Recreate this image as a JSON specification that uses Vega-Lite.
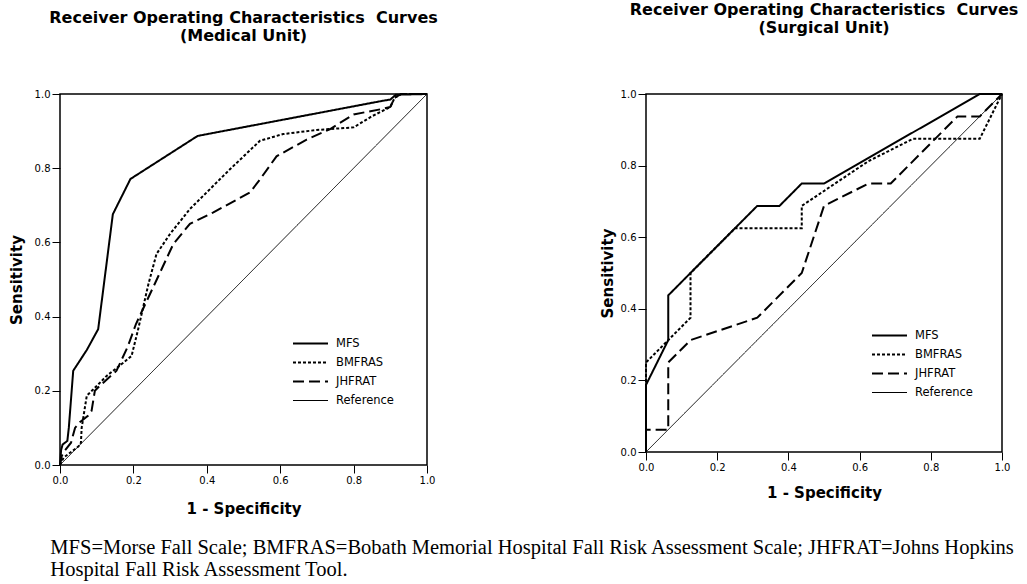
{
  "$schema": "https://vega.github.io/schema/vega-lite/v6.json",
  "padding": {"left": 8, "top": 1, "right": 0, "bottom": 0},
  "background": "white",
  "datasets": {
    "medical": [
      {"series": "MFS", "idx": 0, "fpr": 0, "tpr": 0},
      {"series": "MFS", "idx": 1, "fpr": 0.003, "tpr": 0.04},
      {"series": "MFS", "idx": 2, "fpr": 0.007, "tpr": 0.055},
      {"series": "MFS", "idx": 3, "fpr": 0.02, "tpr": 0.065},
      {"series": "MFS", "idx": 4, "fpr": 0.024, "tpr": 0.1},
      {"series": "MFS", "idx": 5, "fpr": 0.036, "tpr": 0.254},
      {"series": "MFS", "idx": 6, "fpr": 0.073, "tpr": 0.31},
      {"series": "MFS", "idx": 7, "fpr": 0.104, "tpr": 0.366},
      {"series": "MFS", "idx": 8, "fpr": 0.144, "tpr": 0.676},
      {"series": "MFS", "idx": 9, "fpr": 0.192, "tpr": 0.771},
      {"series": "MFS", "idx": 10, "fpr": 0.375, "tpr": 0.887},
      {"series": "MFS", "idx": 11, "fpr": 0.881, "tpr": 0.982},
      {"series": "MFS", "idx": 12, "fpr": 0.9, "tpr": 0.985},
      {"series": "MFS", "idx": 13, "fpr": 0.915, "tpr": 0.998},
      {"series": "MFS", "idx": 14, "fpr": 1, "tpr": 1},
      {"series": "BMFRAS", "idx": 0, "fpr": 0, "tpr": 0},
      {"series": "BMFRAS", "idx": 1, "fpr": 0.01, "tpr": 0.02},
      {"series": "BMFRAS", "idx": 2, "fpr": 0.03, "tpr": 0.035},
      {"series": "BMFRAS", "idx": 3, "fpr": 0.05, "tpr": 0.05},
      {"series": "BMFRAS", "idx": 4, "fpr": 0.057, "tpr": 0.06},
      {"series": "BMFRAS", "idx": 5, "fpr": 0.059, "tpr": 0.1},
      {"series": "BMFRAS", "idx": 6, "fpr": 0.073, "tpr": 0.187},
      {"series": "BMFRAS", "idx": 7, "fpr": 0.091, "tpr": 0.204},
      {"series": "BMFRAS", "idx": 8, "fpr": 0.127, "tpr": 0.24},
      {"series": "BMFRAS", "idx": 9, "fpr": 0.168, "tpr": 0.272},
      {"series": "BMFRAS", "idx": 10, "fpr": 0.195, "tpr": 0.294},
      {"series": "BMFRAS", "idx": 11, "fpr": 0.213, "tpr": 0.366},
      {"series": "BMFRAS", "idx": 12, "fpr": 0.241, "tpr": 0.488},
      {"series": "BMFRAS", "idx": 13, "fpr": 0.263, "tpr": 0.569},
      {"series": "BMFRAS", "idx": 14, "fpr": 0.3, "tpr": 0.623},
      {"series": "BMFRAS", "idx": 15, "fpr": 0.354, "tpr": 0.69},
      {"series": "BMFRAS", "idx": 16, "fpr": 0.463, "tpr": 0.797},
      {"series": "BMFRAS", "idx": 17, "fpr": 0.545, "tpr": 0.874},
      {"series": "BMFRAS", "idx": 18, "fpr": 0.608, "tpr": 0.892},
      {"series": "BMFRAS", "idx": 19, "fpr": 0.699, "tpr": 0.903},
      {"series": "BMFRAS", "idx": 20, "fpr": 0.8, "tpr": 0.91},
      {"series": "BMFRAS", "idx": 21, "fpr": 0.85, "tpr": 0.94},
      {"series": "BMFRAS", "idx": 22, "fpr": 0.9, "tpr": 0.965},
      {"series": "BMFRAS", "idx": 23, "fpr": 0.912, "tpr": 0.99},
      {"series": "BMFRAS", "idx": 24, "fpr": 0.93, "tpr": 1},
      {"series": "BMFRAS", "idx": 25, "fpr": 1, "tpr": 1},
      {"series": "JHFRAT", "idx": 0, "fpr": 0, "tpr": 0},
      {"series": "JHFRAT", "idx": 1, "fpr": 0.005, "tpr": 0.025},
      {"series": "JHFRAT", "idx": 2, "fpr": 0.014, "tpr": 0.04},
      {"series": "JHFRAT", "idx": 3, "fpr": 0.03, "tpr": 0.06},
      {"series": "JHFRAT", "idx": 4, "fpr": 0.041, "tpr": 0.1},
      {"series": "JHFRAT", "idx": 5, "fpr": 0.054, "tpr": 0.115},
      {"series": "JHFRAT", "idx": 6, "fpr": 0.077, "tpr": 0.133},
      {"series": "JHFRAT", "idx": 7, "fpr": 0.086, "tpr": 0.146},
      {"series": "JHFRAT", "idx": 8, "fpr": 0.095, "tpr": 0.2},
      {"series": "JHFRAT", "idx": 9, "fpr": 0.109, "tpr": 0.214},
      {"series": "JHFRAT", "idx": 10, "fpr": 0.154, "tpr": 0.254},
      {"series": "JHFRAT", "idx": 11, "fpr": 0.185, "tpr": 0.32},
      {"series": "JHFRAT", "idx": 12, "fpr": 0.207, "tpr": 0.38},
      {"series": "JHFRAT", "idx": 13, "fpr": 0.259, "tpr": 0.49},
      {"series": "JHFRAT", "idx": 14, "fpr": 0.309, "tpr": 0.596},
      {"series": "JHFRAT", "idx": 15, "fpr": 0.354, "tpr": 0.65},
      {"series": "JHFRAT", "idx": 16, "fpr": 0.418, "tpr": 0.681},
      {"series": "JHFRAT", "idx": 17, "fpr": 0.518, "tpr": 0.735},
      {"series": "JHFRAT", "idx": 18, "fpr": 0.545, "tpr": 0.77},
      {"series": "JHFRAT", "idx": 19, "fpr": 0.59, "tpr": 0.832},
      {"series": "JHFRAT", "idx": 20, "fpr": 0.672, "tpr": 0.877},
      {"series": "JHFRAT", "idx": 21, "fpr": 0.735, "tpr": 0.905},
      {"series": "JHFRAT", "idx": 22, "fpr": 0.8, "tpr": 0.945},
      {"series": "JHFRAT", "idx": 23, "fpr": 0.88, "tpr": 0.96},
      {"series": "JHFRAT", "idx": 24, "fpr": 0.9, "tpr": 0.965},
      {"series": "JHFRAT", "idx": 25, "fpr": 0.912, "tpr": 0.99},
      {"series": "JHFRAT", "idx": 26, "fpr": 0.93, "tpr": 1},
      {"series": "JHFRAT", "idx": 27, "fpr": 1, "tpr": 1},
      {"series": "Reference", "idx": 0, "fpr": 0, "tpr": 0},
      {"series": "Reference", "idx": 1, "fpr": 1, "tpr": 1}
    ],
    "surgical": [
      {"series": "MFS", "idx": 0, "fpr": 0, "tpr": 0},
      {"series": "MFS", "idx": 1, "fpr": 0, "tpr": 0.1875},
      {"series": "MFS", "idx": 2, "fpr": 0.0625, "tpr": 0.3125},
      {"series": "MFS", "idx": 3, "fpr": 0.0625, "tpr": 0.4375},
      {"series": "MFS", "idx": 4, "fpr": 0.125, "tpr": 0.5},
      {"series": "MFS", "idx": 5, "fpr": 0.3125, "tpr": 0.6875},
      {"series": "MFS", "idx": 6, "fpr": 0.375, "tpr": 0.6875},
      {"series": "MFS", "idx": 7, "fpr": 0.4375, "tpr": 0.75},
      {"series": "MFS", "idx": 8, "fpr": 0.5, "tpr": 0.75},
      {"series": "MFS", "idx": 9, "fpr": 0.9375, "tpr": 1},
      {"series": "MFS", "idx": 10, "fpr": 1, "tpr": 1},
      {"series": "BMFRAS", "idx": 0, "fpr": 0, "tpr": 0},
      {"series": "BMFRAS", "idx": 1, "fpr": 0, "tpr": 0.25},
      {"series": "BMFRAS", "idx": 2, "fpr": 0.0625, "tpr": 0.3125},
      {"series": "BMFRAS", "idx": 3, "fpr": 0.125, "tpr": 0.375},
      {"series": "BMFRAS", "idx": 4, "fpr": 0.125, "tpr": 0.5},
      {"series": "BMFRAS", "idx": 5, "fpr": 0.25, "tpr": 0.625},
      {"series": "BMFRAS", "idx": 6, "fpr": 0.4375, "tpr": 0.625},
      {"series": "BMFRAS", "idx": 7, "fpr": 0.4375, "tpr": 0.6875},
      {"series": "BMFRAS", "idx": 8, "fpr": 0.625, "tpr": 0.8125},
      {"series": "BMFRAS", "idx": 9, "fpr": 0.75, "tpr": 0.875},
      {"series": "BMFRAS", "idx": 10, "fpr": 0.9375, "tpr": 0.875},
      {"series": "BMFRAS", "idx": 11, "fpr": 1, "tpr": 1},
      {"series": "JHFRAT", "idx": 0, "fpr": 0, "tpr": 0},
      {"series": "JHFRAT", "idx": 1, "fpr": 0, "tpr": 0.0625},
      {"series": "JHFRAT", "idx": 2, "fpr": 0.0625, "tpr": 0.0625},
      {"series": "JHFRAT", "idx": 3, "fpr": 0.0625, "tpr": 0.25},
      {"series": "JHFRAT", "idx": 4, "fpr": 0.125, "tpr": 0.3125},
      {"series": "JHFRAT", "idx": 5, "fpr": 0.3125, "tpr": 0.375},
      {"series": "JHFRAT", "idx": 6, "fpr": 0.4375, "tpr": 0.5},
      {"series": "JHFRAT", "idx": 7, "fpr": 0.5, "tpr": 0.6875},
      {"series": "JHFRAT", "idx": 8, "fpr": 0.625, "tpr": 0.75},
      {"series": "JHFRAT", "idx": 9, "fpr": 0.6875, "tpr": 0.75},
      {"series": "JHFRAT", "idx": 10, "fpr": 0.875, "tpr": 0.9375},
      {"series": "JHFRAT", "idx": 11, "fpr": 0.9375, "tpr": 0.9375},
      {"series": "JHFRAT", "idx": 12, "fpr": 1, "tpr": 1},
      {"series": "Reference", "idx": 0, "fpr": 0, "tpr": 0},
      {"series": "Reference", "idx": 1, "fpr": 1, "tpr": 1}
    ]
  },
  "title": {
    "text": ["MFS=Morse Fall Scale; BMFRAS=Bobath Memorial Hospital Fall Risk Assessment Scale; JHFRAT=Johns Hopkins", "Hospital Fall Risk Assessment Tool."],
    "orient": "bottom",
    "anchor": "start",
    "font": "Liberation Serif",
    "fontSize": 20.5,
    "fontWeight": "normal",
    "color": "#000",
    "lineHeight": 22,
    "offset": 21,
    "dx": 42
  },
  "spacing": 160,
  "hconcat": [
    {
      "width": 367,
      "height": 371,
      "data": {"name": "medical"},
      "title": {"text": ["Receiver Operating Characteristics\u00a0 Curves", "(Medical Unit)"], "offset": 45},
      "mark": {"type": "line", "color": "#000", "strokeCap": "butt", "strokeJoin": "miter"},
      "encoding": {
        "x": {"field": "fpr", "type": "quantitative", "scale": {"domain": [0, 1], "nice": false, "zero": false}, "axis": {"title": "1 - Specificity", "values": [0, 0.2, 0.4, 0.6, 0.8, 1], "format": ".1f", "titlePadding": 16}},
        "y": {"field": "tpr", "type": "quantitative", "scale": {"domain": [0, 1], "nice": false, "zero": false}, "axis": {"title": "Sensitivity", "values": [0, 0.2, 0.4, 0.6, 0.8, 1], "format": ".1f", "titlePadding": 10}},
        "order": {"field": "idx", "type": "quantitative"},
        "strokeDash": {"field": "series", "type": "nominal", "scale": {"domain": ["MFS", "BMFRAS", "JHFRAT", "Reference"], "range": [[1, 0], [3, 2], [11, 5], [1, 0]]}, "legend": {"orient": "none", "legendX": 232, "legendY": 242, "title": null}},
        "strokeWidth": {"field": "series", "type": "ordinal", "scale": {"type": "ordinal", "domain": ["MFS", "BMFRAS", "JHFRAT", "Reference"], "range": [2, 2, 2, 1]}, "legend": {"orient": "none", "legendX": 232, "legendY": 242, "title": null}}
      }
    },
    {
      "width": 356,
      "height": 358,
      "data": {"name": "surgical"},
      "title": {"text": ["Receiver Operating Characteristics\u00a0 Curves", "(Surgical Unit)"], "offset": 53},
      "mark": {"type": "line", "color": "#000", "strokeCap": "butt", "strokeJoin": "miter"},
      "encoding": {
        "x": {"field": "fpr", "type": "quantitative", "scale": {"domain": [0, 1], "nice": false, "zero": false}, "axis": {"title": "1 - Specificity", "values": [0, 0.2, 0.4, 0.6, 0.8, 1], "format": ".1f", "titlePadding": 13}},
        "y": {"field": "tpr", "type": "quantitative", "scale": {"domain": [0, 1], "nice": false, "zero": false}, "axis": {"title": "Sensitivity", "values": [0, 0.2, 0.4, 0.6, 0.8, 1], "format": ".1f", "titlePadding": 5}},
        "order": {"field": "idx", "type": "quantitative"},
        "strokeDash": {"field": "series", "type": "nominal", "scale": {"domain": ["MFS", "BMFRAS", "JHFRAT", "Reference"], "range": [[1, 0], [3, 2], [11, 5], [1, 0]]}, "legend": {"orient": "none", "legendX": 225, "legendY": 234, "title": null}},
        "strokeWidth": {"field": "series", "type": "ordinal", "scale": {"type": "ordinal", "domain": ["MFS", "BMFRAS", "JHFRAT", "Reference"], "range": [2, 2, 2, 1]}, "legend": {"orient": "none", "legendX": 225, "legendY": 234, "title": null}}
      }
    }
  ],
  "resolve": {"scale": {"strokeDash": "independent", "strokeWidth": "independent", "x": "independent", "y": "independent"}, "legend": {"strokeDash": "independent", "strokeWidth": "independent"}},
  "config": {
    "view": {"stroke": "#000", "strokeWidth": 1.5},
    "axis": {"domain": false, "grid": false, "ticks": true, "tickColor": "#000", "tickSize": 8, "tickWidth": 1, "labelFont": "DejaVu Sans", "labelFontSize": 10, "labelColor": "#000", "labelPadding": 2, "labelFlush": false, "titleFont": "DejaVu Sans", "titleFontSize": 15, "titleFontWeight": "bold", "titleColor": "#000"},
    "legend": {"symbolType": "stroke", "symbolSize": 1225, "symbolStrokeColor": "#000", "labelFont": "DejaVu Sans", "labelFontSize": 11.5, "labelColor": "#000", "labelOffset": 7, "rowPadding": 4, "clipHeight": 15, "padding": 0},
    "title": {"font": "DejaVu Sans", "fontSize": 16, "fontWeight": "bold", "color": "#000", "lineHeight": 18, "anchor": "middle"}
  }
}
